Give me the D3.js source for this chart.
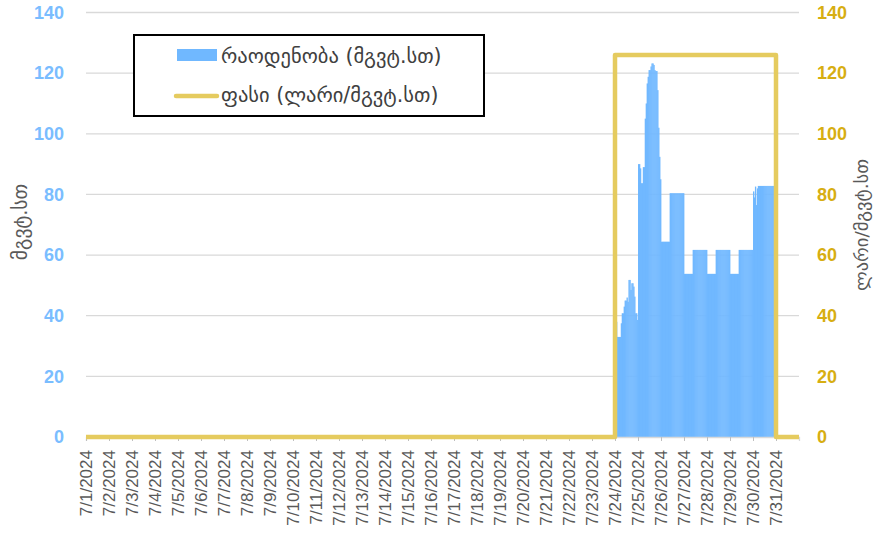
<!DOCTYPE html>
<html>
<head>
<meta charset="utf-8">
<script src="https://cdn.jsdelivr.net/npm/d3@7"></script>
<style>
  body { margin: 0; background: #fff; }
  svg { display: block; }
</style>
</head>
<body>
<div id="chart"></div>
<script>
// day labels on the x axis
var dayLabels = ["7/1/2024","7/2/2024","7/3/2024","7/4/2024","7/5/2024","7/6/2024","7/7/2024",
  "7/8/2024","7/9/2024","7/10/2024","7/11/2024","7/12/2024","7/13/2024","7/14/2024","7/15/2024",
  "7/16/2024","7/17/2024","7/18/2024","7/19/2024","7/20/2024","7/21/2024","7/22/2024","7/23/2024",
  "7/24/2024","7/25/2024","7/26/2024","7/27/2024","7/28/2024","7/29/2024","7/30/2024","7/31/2024"];

// hourly quantity (მგვტ.სთ), only days with delivery
var q0724 = [38,38,33,33,33,33,37.5,40.8,40.8,43,45,45,46,44.6,51.8,51.8,48.5,50.7,50.7,49.6,46.3,40.8,40.8,38.6];
var q0725 = [90,90,88.6,83.7,83.7,89,89,105,110,116.6,118.8,121,121,122.2,123.2,123.2,122.7,121,120.7,120.7,114.4,102,92.4,85];
var q0726 = [64.4,64.4,64.4,64.4,64.4,64.4,64.4,64.4,64.4,80.4,80.4,80.4,80.4,80.4,80.4,80.4,80.4,80.4,80.4,80.4,80.4,80.4,80.4,80.4];
var q0727 = [53.8,53.8,53.8,53.8,53.8,53.8,53.8,53.8,53.8,61.7,61.7,61.7,61.7,61.7,61.7,61.7,61.7,61.7,61.7,61.7,61.7,61.7,61.7,61.7];
var q0728 = [53.8,53.8,53.8,53.8,53.8,53.8,53.8,53.8,53.8,61.7,61.7,61.7,61.7,61.7,61.7,61.7,61.7,61.7,61.7,61.7,61.7,61.7,61.7,61.7];
var q0729 = [53.8,53.8,53.8,53.8,53.8,53.8,53.8,53.8,53.8,61.7,61.7,61.7,61.7,61.7,61.7,61.7,61.7,61.7,61.7,61.7,61.7,61.7,61.7,61.7];
var q0730 = [81,79,82.6,76.5,82,82.8,82.8,82.8,82.8,82.8,82.8,82.8,82.8,82.8,82.8,82.8,82.8,82.8,82.8,82.8,82.8,82.8,82.8,82.8];
var quantityDays = ["7/24/2024","7/25/2024","7/26/2024","7/27/2024","7/28/2024","7/29/2024","7/30/2024"];
var quantityHours = [q0724, q0725, q0726, q0727, q0728, q0729, q0730];

// daily price (ლარი/მგვტ.სთ)
var priceDaily = [0,0,0,0,0,0,0,0,0,0,0,0,0,0,0,0,0,0,0,0,0,0,0,126,126,126,126,126,126,126,0];

var yTicks = [0,20,40,60,80,100,120,140];

var width = 876;
var height = 533;
var blue = "#70B8FF";
var gold = "#E5CB5F";
var font = "'Liberation Sans', Arial, sans-serif";
var geoFont = "'DejaVu Sans', sans-serif";

var parseDay = d3.timeParse("%m/%d/%Y");
var days = dayLabels.map(parseDay);

var x = d3.scaleTime()
  .domain([days[0], d3.timeDay.offset(days[30], 1)])
  .range([86, 799]);
var yLeft = d3.scaleLinear().domain([0, 140]).range([437, 12.5]);
var yRight = d3.scaleLinear().domain([0, 140]).range([437, 12.5]);

var svg = d3.select("#chart").append("svg")
  .attr("width", width)
  .attr("height", height);

// gridlines
svg.append("g").selectAll("line")
  .data(yTicks.slice(1))
  .enter().append("line")
  .attr("x1", x.range()[0]).attr("x2", x.range()[1])
  .attr("y1", function(d) { return yLeft(d); })
  .attr("y2", function(d) { return yLeft(d); })
  .attr("stroke", "#D9D9D9")
  .attr("stroke-width", 1.3);

// hourly bars
var bars = [];
for (var i = 0; i < quantityDays.length; i++) {
  var d0 = parseDay(quantityDays[i]);
  for (var h = 0; h < quantityHours[i].length; h++) {
    bars.push([d3.timeHour.offset(d0, h), quantityHours[i][h]]);
  }
}
svg.append("g").selectAll("rect")
  .data(bars)
  .enter().append("rect")
  .attr("x", function(d) { return x(d[0]); })
  .attr("width", function(d) { return x(d3.timeHour.offset(d[0], 1)) - x(d[0]) + 0.4; })
  .attr("y", function(d) { return yLeft(d[1]); })
  .attr("height", function(d) { return yLeft(0) - yLeft(d[1]); })
  .attr("fill", blue);

// x axis
var xAxis = d3.axisBottom(x)
  .tickValues(days)
  .tickSize(4)
  .tickFormat(function(d, i) { return dayLabels[i]; });
var gx = svg.append("g")
  .attr("transform", "translate(0," + yLeft(0) + ")")
  .call(xAxis);
gx.select(".domain").attr("stroke", "#D9D9D9").attr("stroke-width", 1.3);
gx.selectAll(".tick line").attr("stroke", "#BFBFBF");
gx.selectAll("text")
  .attr("transform", "rotate(-90)")
  .attr("x", -13)
  .attr("y", 0)
  .attr("dy", "0.35em")
  .style("text-anchor", "end")
  .attr("fill", "#595959")
  .style("font-family", font)
  .style("font-size", "17px");

// price line (step per day)
var pricePts = days.map(function(d, i) { return [d, priceDaily[i]]; });
pricePts.push([x.domain()[1], priceDaily[30]]);
var priceLine = d3.line()
  .x(function(d) { return x(d[0]); })
  .y(function(d) { return yRight(d[1]); })
  .curve(d3.curveStepAfter);
svg.append("path")
  .datum(pricePts)
  .attr("d", priceLine)
  .attr("fill", "none")
  .attr("stroke", gold)
  .attr("stroke-width", 4.5)
  .attr("stroke-linejoin", "round");

// left axis
var gl = svg.append("g")
  .attr("transform", "translate(" + x.range()[0] + ",0)")
  .call(d3.axisLeft(yLeft).tickValues(yTicks).tickSize(0).tickPadding(22));
gl.select(".domain").remove();
gl.selectAll("text")
  .attr("fill", "#7ABDFF")
  .style("font-family", font)
  .style("font-weight", "bold")
  .style("font-size", "18px");

// right axis
var gr = svg.append("g")
  .attr("transform", "translate(" + x.range()[1] + ",0)")
  .call(d3.axisRight(yRight).tickValues(yTicks).tickSize(0).tickPadding(18));
gr.select(".domain").remove();
gr.selectAll("text")
  .attr("fill", "#D7AE12")
  .style("font-family", font)
  .style("font-weight", "bold")
  .style("font-size", "18px");

// axis titles
svg.append("text")
  .attr("transform", "translate(20,222) rotate(-90)")
  .attr("dy", "0.35em")
  .attr("text-anchor", "middle")
  .attr("fill", "#595959")
  .style("font-family", geoFont)
  .style("font-size", "19.5px")
  .text("მგვტ.სთ");
svg.append("text")
  .attr("transform", "translate(862,225) rotate(-90)")
  .attr("dy", "0.35em")
  .attr("text-anchor", "middle")
  .attr("fill", "#595959")
  .style("font-family", geoFont)
  .style("font-size", "18.5px")
  .text("ლარი/მგვტ.სთ");

// legend
var legend = svg.append("g");
legend.append("rect")
  .attr("x", 134).attr("y", 35)
  .attr("width", 350).attr("height", 81)
  .attr("fill", "#fff")
  .attr("stroke", "#000")
  .attr("stroke-width", 2);
legend.append("rect")
  .attr("x", 177).attr("y", 49)
  .attr("width", 40).attr("height", 12)
  .attr("fill", blue);
legend.append("line")
  .attr("x1", 176).attr("x2", 217)
  .attr("y1", 96).attr("y2", 96)
  .attr("stroke", gold)
  .attr("stroke-width", 4.5)
  .attr("stroke-linecap", "round");
legend.append("text")
  .attr("x", 221).attr("y", 63)
  .attr("fill", "#404040")
  .style("font-family", geoFont)
  .style("font-size", "20.5px")
  .text("რაოდენობა (მგვტ.სთ)");
legend.append("text")
  .attr("x", 221).attr("y", 102)
  .attr("fill", "#404040")
  .style("font-family", geoFont)
  .style("font-size", "20.5px")
  .text("ფასი (ლარი/მგვტ.სთ)");
</script>
</body>
</html>
